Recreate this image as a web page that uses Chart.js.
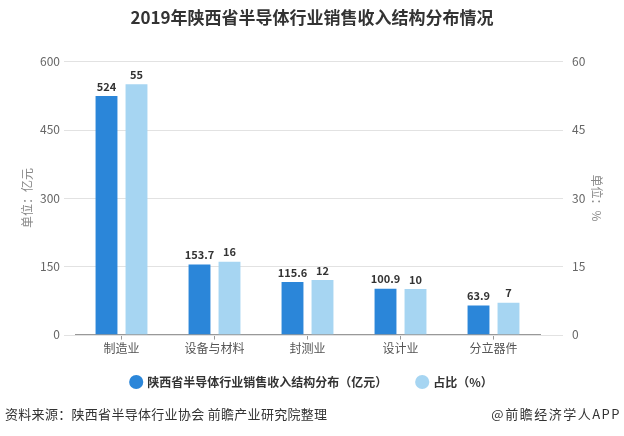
<!DOCTYPE html>
<html>
<head>
<meta charset="utf-8">
<script src="https://cdn.jsdelivr.net/npm/chart.js@4"></script>
<style>
  body { margin: 0; background: #fff; }
  #wrap { position: relative; width: 624px; height: 436px; font-family: "Noto Sans CJK SC", sans-serif; }
  .foot { position: absolute; top: 404px; font-size: 13px; color: #333; }
</style>
</head>
<body>
<div id="wrap">
  <canvas id="grafico" width="624" height="436"></canvas>
  <div class="foot" style="left:5px; letter-spacing:0.3px;">资料来源：陕西省半导体行业协会 前瞻产业研究院整理</div>
  <div class="foot" style="right:3px; letter-spacing:1.5px;">@前瞻经济学人APP</div>
</div>
<script>
// Datos del gráfico
const categorias = ['制造业', '设备与材料', '封测业', '设计业', '分立器件'];
const ingresos = [524, 153.7, 115.6, 100.9, 63.9];
const porcentajes = [55, 16, 12, 10, 7];
const ticksIzq = [0, 150, 300, 450, 600];
const ticksDer = [0, 15, 30, 45, 60];

const fuente = '"Noto Sans CJK SC", sans-serif';

// Líneas de la cuadrícula más largas que el área del gráfico
const cuadricula = {
    id: 'cuadricula',
    beforeDatasetsDraw(chart) {
        const ctx = chart.ctx;
        const y = chart.scales.y;
        ctx.save();
        ctx.strokeStyle = '#e2e2e2';
        ctx.lineWidth = 1;
        ticksIzq.forEach(v => {
            const py = Math.round(y.getPixelForValue(v)) + 0.5;
            ctx.beginPath();
            ctx.moveTo(64, py);
            ctx.lineTo(563, py);
            ctx.stroke();
        });
        ctx.restore();
    }
};

// Subir un poco la leyenda
const subirLeyenda = {
    id: 'subirLeyenda',
    afterLayout(chart) {
        chart.legend.top -= 12;
        chart.legend.bottom -= 12;
    }
};

// Etiquetas encima de las barras
const etiquetas = {
    id: 'etiquetas',
    afterDatasetsDraw(chart) {
        const ctx = chart.ctx;
        ctx.save();
        ctx.font = 'bold 11px ' + fuente;
        ctx.fillStyle = '#333';
        ctx.textAlign = 'center';
        ctx.textBaseline = 'bottom';
        chart.data.datasets.forEach((ds, i) => {
            chart.getDatasetMeta(i).data.forEach((bar, j) => {
                ctx.fillText(String(ds.data[j]), bar.x, bar.y - 4);
            });
        });
        ctx.restore();
    }
};

new Chart(document.getElementById('grafico'), {
    type: 'bar',
    data: {
        labels: categorias,
        datasets: [{
            label: '陕西省半导体行业销售收入结构分布（亿元）',
            data: ingresos,
            backgroundColor: '#2b86d9',
            yAxisID: 'y',
            barPercentage: 0.73,
            categoryPercentage: 0.645
        }, {
            label: '占比（%）',
            data: porcentajes,
            backgroundColor: '#a6d5f2',
            yAxisID: 'y1',
            barPercentage: 0.73,
            categoryPercentage: 0.645
        }]
    },
    options: {
        responsive: false,
        animation: false,
        layout: { padding: { left: 20, right: 20, top: 0, bottom: 26 } },
        plugins: {
            title: {
                display: true,
                text: '2019年陕西省半导体行业销售收入结构分布情况',
                color: '#333',
                font: { family: fuente, size: 17, weight: 'bold' },
                padding: { top: 7, bottom: 34 }
            },
            legend: {
                position: 'bottom',
                labels: {
                    usePointStyle: true,
                    pointStyle: 'circle',
                    boxWidth: 10,
                    boxHeight: 10,
                    padding: 30,
                    color: '#333',
                    font: { family: fuente, size: 12, weight: 'bold' }
                }
            },
            tooltip: { enabled: false }
        },
        scales: {
            x: {
                grid: { display: true, drawOnChartArea: false, offset: false, tickLength: 5, color: '#999' },
                border: { display: true, color: '#999' },
                ticks: { color: '#555', font: { family: fuente, size: 12 }, padding: 2 }
            },
            y: {
                position: 'left',
                min: 0, max: 600,
                afterBuildTicks: s => { s.ticks = ticksIzq.map(v => ({ value: v })); },
                afterFit: s => { s.width = 55; },
                grid: { display: false },
                border: { display: false },
                ticks: { color: '#666', font: { family: fuente, size: 12 }, padding: 7 },
                title: { display: true, text: '单位：亿元', color: '#888', font: { family: fuente, size: 12 }, padding: 0 }
            },
            y1: {
                position: 'right',
                min: 0, max: 60,
                afterBuildTicks: s => { s.ticks = ticksDer.map(v => ({ value: v })); },
                afterFit: s => { s.width = 64; },
                grid: { display: false },
                border: { display: false },
                ticks: { color: '#666', font: { family: fuente, size: 12 }, padding: 24 },
                title: { display: true, text: '单位：%', color: '#888', font: { family: fuente, size: 12 }, padding: 0 }
            }
        }
    },
    plugins: [cuadricula, subirLeyenda, etiquetas]
});
</script>
</body>
</html>
